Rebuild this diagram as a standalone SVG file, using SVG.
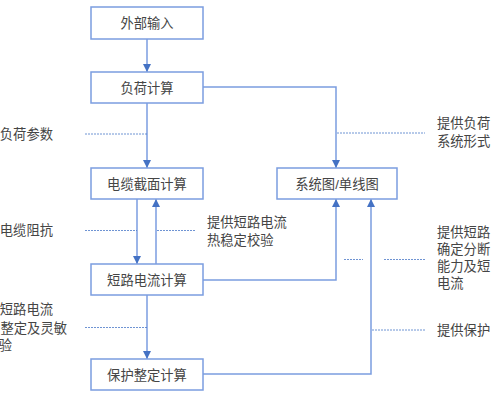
<svg xmlns="http://www.w3.org/2000/svg" width="495" height="400" viewBox="0 0 495 400">
<defs>
<marker id="arr" markerUnits="userSpaceOnUse" markerWidth="9" markerHeight="9" viewBox="0 0 9 9" refX="8" refY="4.5" orient="auto">
<path d="M0,0.5 L8,4.5 L0,8.5 Z" fill="#4472c4"/>
</marker>
<style>
.box{fill:#ffffff;stroke:#7b9de0;stroke-width:1.5}
.ln{fill:none;stroke:#7b9de0;stroke-width:1.5}
.dash{fill:none;stroke:#4a78c8;stroke-width:0.8;stroke-dasharray:2 1}
.t{font-family:"Liberation Sans","Noto Sans CJK SC",sans-serif;font-size:13.3px;fill:#454545}
.c{text-anchor:middle}
.e{text-anchor:end}
</style>
</defs>
<rect width="495" height="400" fill="#ffffff"/>
<g id="connectors">
<line class="ln" x1="147" y1="39" x2="147" y2="72" marker-end="url(#arr)"/>
<line class="ln" x1="147" y1="103" x2="147" y2="168" marker-end="url(#arr)"/>
<polyline class="ln" points="203,87 336,87 336,168" marker-end="url(#arr)"/>
<line class="ln" x1="137" y1="199" x2="137" y2="264" marker-end="url(#arr)"/>
<line class="ln" x1="156" y1="264" x2="156" y2="199" marker-end="url(#arr)"/>
<line class="ln" x1="147" y1="295" x2="147" y2="359" marker-end="url(#arr)"/>
<polyline class="ln" points="203,280 336,280 336,199" marker-end="url(#arr)"/>
<polyline class="ln" points="203,374 371,374 371,199" marker-end="url(#arr)"/>
<line class="dash" x1="85" y1="134" x2="147" y2="134"/>
<line class="dash" x1="337" y1="133" x2="425" y2="133"/>
<line class="dash" x1="85" y1="230.5" x2="137" y2="230.5"/>
<line class="dash" x1="157" y1="230.5" x2="196" y2="230.5"/>
<line class="dash" x1="344" y1="259.5" x2="363" y2="259.5"/>
<line class="dash" x1="384" y1="259.5" x2="425" y2="259.5"/>
<line class="dash" x1="85" y1="327.5" x2="147" y2="327.5"/>
<line class="dash" x1="372" y1="330" x2="425" y2="330"/>
</g>
<g id="n-input"><rect class="box" x="91" y="7" width="112" height="32"/><text class="t c" x="147" y="28">外部输入</text></g>
<g id="n-load"><rect class="box" x="91" y="72" width="112" height="31"/><text class="t c" x="147" y="92.5">负荷计算</text></g>
<g id="n-cable"><rect class="box" x="91" y="168" width="112" height="31"/><text class="t c" x="147" y="188.5">电缆截面计算</text></g>
<g id="n-sc"><rect class="box" x="91" y="264" width="112" height="31"/><text class="t c" x="147" y="284.5">短路电流计算</text></g>
<g id="n-prot"><rect class="box" x="91" y="359" width="112" height="31"/><text class="t c" x="147" y="379.5">保护整定计算</text></g>
<g id="n-sys"><rect class="box" x="277" y="168" width="120" height="31"/><text class="t c" x="337" y="188.5">系统图/单线图</text></g>
<g id="labels">
<text class="t e" x="53" y="139">负荷参数</text>
<text class="t e" x="53" y="235">电缆阻抗</text>
<text class="t e" x="53" y="314">短路电流</text>
<text class="t e" x="67" y="332.5">整定及灵敏</text>
<text class="t e" x="12" y="349.5">验</text>
<text class="t" x="437" y="128">提供负荷</text>
<text class="t" x="437" y="145.5">系统形式</text>
<text class="t" x="207" y="227">提供短路电流</text>
<text class="t" x="207" y="244.5">热稳定校验</text>
<text class="t" x="437" y="237">提供短路</text>
<text class="t" x="437" y="254">确定分断</text>
<text class="t" x="437" y="270.5">能力及短</text>
<text class="t" x="437" y="288">电流</text>
<text class="t" x="437" y="334.5">提供保护</text>
</g>
</svg>
